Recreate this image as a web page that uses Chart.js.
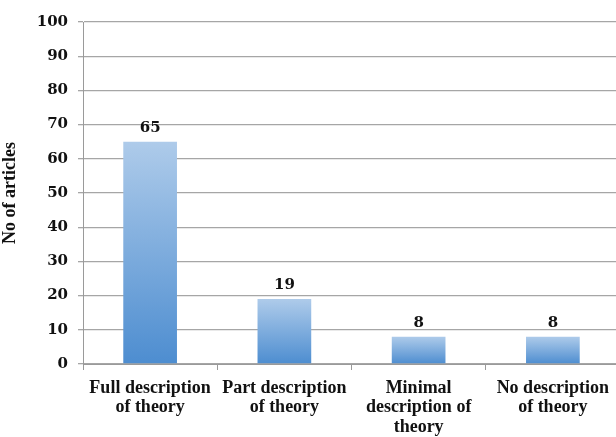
<!DOCTYPE html>
<html>
<head>
<meta charset="utf-8">
<script src="https://cdn.jsdelivr.net/npm/chart.js@4"></script>
<style>
  html, body { margin: 0; padding: 0; background: #fff; overflow: hidden; }
  #wrap { width: 624px; height: 434px; margin-top: 3px; }
</style>
</head>
<body>
<div id="wrap"><canvas id="articlesChart"></canvas></div>
<script>
// Data
const categories = [
    ["Full description", "of theory"],
    ["Part description", "of theory"],
    ["Minimal", "description of", "theory"],
    ["No description", "of theory"]
];
const articleCounts = [65, 19, 8, 8];
const yTicks = [0, 10, 20, 30, 40, 50, 60, 70, 80, 90, 100];

const serifBold = "'Liberation Serif', serif";
const digitFont = "'DejaVu Serif', serif";

// each bar: light blue at its top, darker blue at the bottom
function barGradient(ctx) {
    const chart = ctx.chart;
    const area = chart.chartArea;
    if (!area || ctx.type !== "data") return "#7fb0e0";
    const top = chart.scales.y.getPixelForValue(articleCounts[ctx.dataIndex]);
    const g = chart.ctx.createLinearGradient(0, top, 0, area.bottom);
    g.addColorStop(0, "#aecbea");
    g.addColorStop(1, "#4d8dd0");
    return g;
}

// numbers over the bars
const valueLabels = {
    id: "valueLabels",
    afterDatasetsDraw(chart) {
        const c = chart.ctx;
        c.save();
        c.font = "bold 15px " + digitFont;
        c.fillStyle = "#111";
        c.textAlign = "center";
        c.textBaseline = "bottom";
        chart.getDatasetMeta(0).data.forEach((bar, i) => {
            c.fillText(articleCounts[i], bar.x, bar.y - 6);
        });
        c.restore();
    }
};

new Chart("articlesChart", {
    type: "bar",
    data: {
        labels: categories,
        datasets: [{
            data: articleCounts,
            backgroundColor: barGradient,
            borderWidth: 0,
            categoryPercentage: 1,
            barPercentage: 0.4
        }]
    },
    options: {
        responsive: true,
        maintainAspectRatio: false,
        animation: false,
        layout: { padding: { top: 15, right: 4, left: 0, bottom: 0 } },
        plugins: { legend: { display: false }, tooltip: { enabled: false } },
        scales: {
            x: {
                afterFit: scale => { scale.height = 73; },
                grid: { drawOnChartArea: false, tickLength: 6, color: "#9a9a9a" },
                border: { color: "#9a9a9a" },
                ticks: {
                    color: "#111",
                    maxRotation: 0,
                    autoSkip: false,
                    padding: 8,
                    font: { family: serifBold, weight: "bold", size: 18, lineHeight: 1.1 }
                }
            },
            y: {
                min: 0,
                max: 100,
                afterBuildTicks: scale => { scale.ticks = yTicks.map(v => ({ value: v })); },
                afterFit: scale => { scale.width = 83; },
                grid: { color: "#a6a6a6", lineWidth: 1.3, tickLength: 5 },
                border: { color: "#9a9a9a" },
                ticks: {
                    color: "#111",
                    padding: 10,
                    font: { family: digitFont, weight: "bold", size: 15 }
                },
                title: {
                    display: true,
                    text: "No of articles",
                    color: "#111",
                    padding: { top: 0, bottom: 0 },
                    font: { family: serifBold, weight: "bold", size: 18 }
                }
            }
        }
    },
    plugins: [valueLabels]
});
</script>
</body>
</html>
